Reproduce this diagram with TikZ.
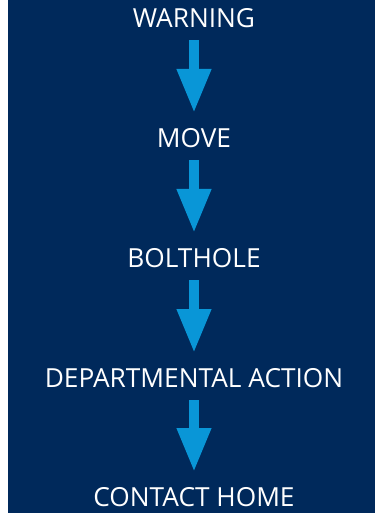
\documentclass[tikz,border=0pt]{standalone}
\usepackage{fontspec}
\setmainfont{Open Sans}
\usetikzlibrary{arrows.meta}
\definecolor{navy}{HTML}{00295B}
\definecolor{flowblue}{HTML}{0996D7}
\tikzset{
  stage/.style={text=white, font=\fontsize{19.7}{22}\selectfont, inner sep=0pt},
  flow/.style={draw=flowblue, line width=7.5pt, line cap=butt,
    -{Triangle[width=24pt,length=33pt]},
    shorten <=16.5pt, shorten >=18.75pt}
}
\begin{document}
\begin{tikzpicture}[x=0.75pt,y=-0.75pt]
		%%%%% BACKGROUND %%%%%
		\useasboundingbox (0,0) rectangle (375,513);
		\fill[white] (0,0) rectangle (375,513);
		\fill[navy] (8,0) rectangle (375,513);
		
		%%%%% STAGES %%%%%
		\node[stage] (warning) at (194,18) {WARNING};
		\node[stage] (move) at (194,138) {MOVE};
		\node[stage] (bolthole) at (194,258) {BOLTHOLE};
		\node[stage] (action) at (194,378) {DEPARTMENTAL ACTION};
		\node[stage] (home) at (194,497) {CONTACT HOME};
		
		%%%%% ARROWS %%%%%
		\draw[flow] (warning.center) -- (move.center);
		\draw[flow] (move.center) -- (bolthole.center);
		\draw[flow] (bolthole.center) -- (action.center);
		\draw[flow] (action.center) -- (home.center);
	\end{tikzpicture}
\end{document}
